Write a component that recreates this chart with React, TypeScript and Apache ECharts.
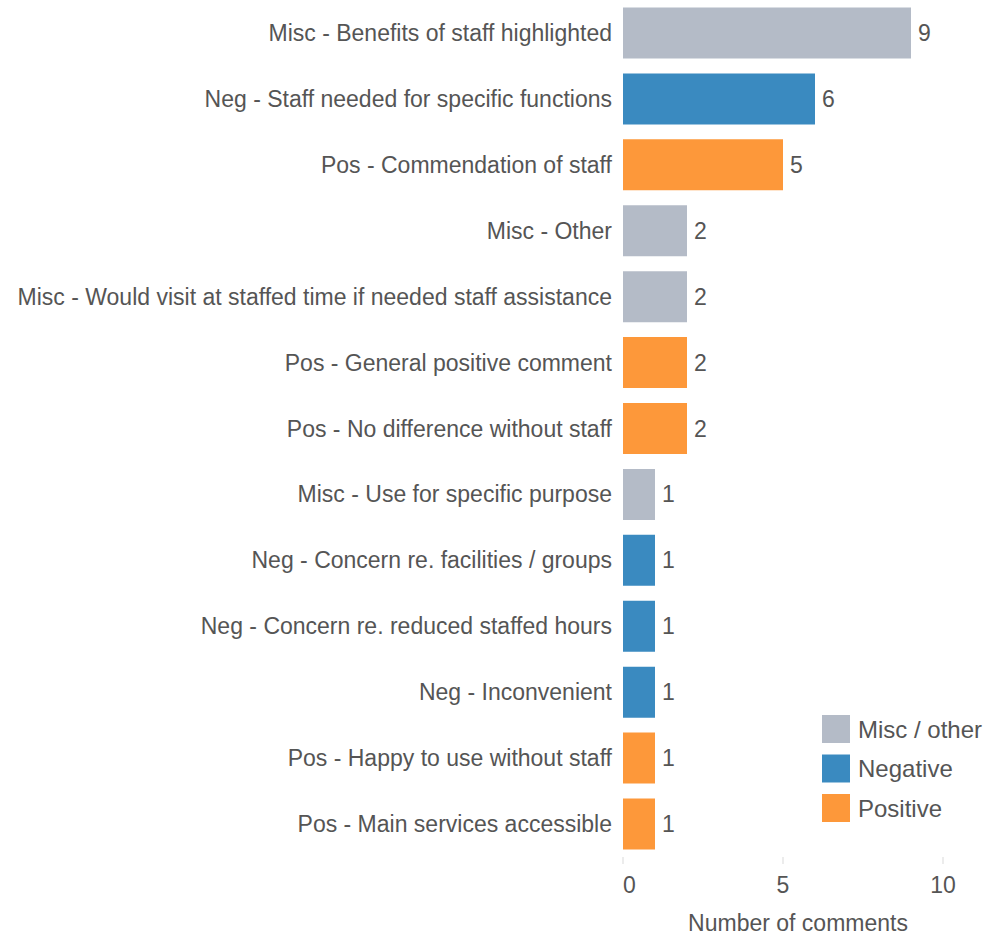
import React, { useEffect, useRef } from "react";
import * as echarts from "echarts";

const categories = [
  "Misc - Benefits of staff highlighted",
  "Neg - Staff needed for specific functions",
  "Pos - Commendation of staff",
  "Misc - Other",
  "Misc - Would visit at staffed time if needed staff assistance",
  "Pos - General positive comment",
  "Pos - No difference without staff",
  "Misc - Use for specific purpose",
  "Neg - Concern re. facilities / groups",
  "Neg - Concern re. reduced staffed hours",
  "Neg - Inconvenient",
  "Pos - Happy to use without staff",
  "Pos - Main services accessible",
];
const counts = [9, 6, 5, 2, 2, 2, 2, 1, 1, 1, 1, 1, 1];
const groups = ["Misc / other", "Negative", "Positive", "Misc / other", "Misc / other", "Positive", "Positive", "Misc / other", "Negative", "Negative", "Negative", "Positive", "Positive"];
const legendNames = ["Misc / other", "Negative", "Positive"];
const colors = ["#b4bbc7", "#3a8ac0", "#fd983a"];
const xTicks = { min: 0, max: 10, interval: 5 };

const FONT = "'Liberation Sans', Arial, sans-serif";
const TEXT = "#555555";

export default function App() {
  const ref = useRef<HTMLDivElement>(null);
  useEffect(() => {
    if (!ref.current) return;
    const chart = echarts.init(ref.current, undefined, { renderer: "svg" });
    const series = legendNames.map((name, gi) => ({
      name,
      type: "bar",
      stack: "total",
      barWidth: 51,
      itemStyle: { color: colors[gi] },
      label: {
        show: true,
        position: "right",
        distance: 7,
        color: TEXT,
        fontSize: 23,
        fontFamily: FONT,
      },
      data: counts.map((v, i) => (groups[i] === name ? v : "-")),
    }));
    chart.setOption({
      animation: false,
      textStyle: { fontFamily: FONT },
      grid: {
        left: 623,
        right: 44,
        top: 0,
        height: 857,
        containLabel: false,
        outerBoundsMode: "none",
      },
      legend: {
        data: legendNames,
        orient: "vertical",
        left: 817,
        top: 710,
        padding: 5,
        icon: "rect",
        itemWidth: 28,
        itemHeight: 28,
        itemGap: 11.5,
        textStyle: { color: TEXT, fontSize: 24, fontFamily: FONT, padding: [0, 0, 0, 3] },
      },
      xAxis: {
        type: "value",
        min: xTicks.min,
        max: xTicks.max,
        interval: xTicks.interval,
        name: "Number of comments",
        nameLocation: "middle",
        nameGap: 54,
        nameTextStyle: { color: TEXT, fontSize: 23, fontFamily: FONT, padding: [0, 0, 0, 30] },
        axisLine: { show: false },
        axisTick: { show: true, length: 7, lineStyle: { color: "#e6e6e6", width: 1.5 } },
        splitLine: { show: false },
        axisLabel: {
          color: TEXT,
          fontSize: 23,
          fontFamily: FONT,
          margin: 16,
          alignMinLabel: "left",
        },
      },
      yAxis: {
        type: "category",
        data: categories,
        inverse: true,
        axisLine: { show: false },
        axisTick: { show: false },
        axisLabel: { color: TEXT, fontSize: 23, fontFamily: FONT, margin: 11 },
      },
      series,
    });
    return () => chart.dispose();
  }, []);
  return <div ref={ref} style={{ width: 987, height: 935, position: "absolute", left: 0, top: 0 }} />;
}
